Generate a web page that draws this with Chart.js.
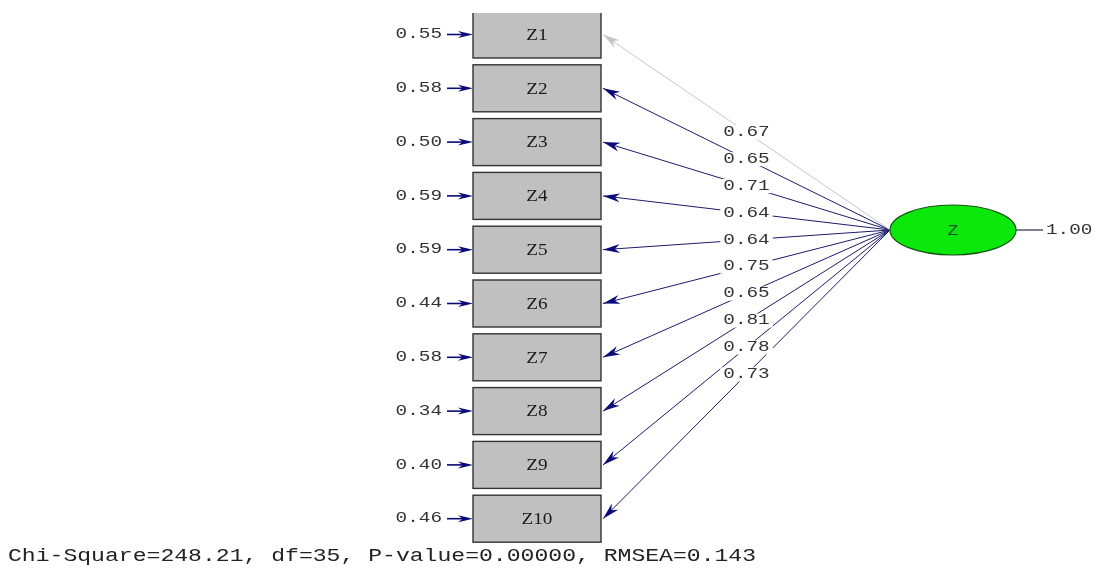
<!DOCTYPE html>
<html>
<head>
<meta charset="utf-8">
<script src="https://cdn.jsdelivr.net/npm/chart.js@4"></script>
<style>
  html, body { margin: 0; padding: 0; background: #fff; }
  #wrap { position: relative; width: 1103px; height: 572px; }
</style>
</head>
<body>
<div id="wrap"><canvas id="diagram"></canvas></div>
<script>
// data
const indicators = ['Z1', 'Z2', 'Z3', 'Z4', 'Z5', 'Z6', 'Z7', 'Z8', 'Z9', 'Z10'];
const errorVariances = [0.55, 0.58, 0.50, 0.59, 0.59, 0.44, 0.58, 0.34, 0.40, 0.46];
const loadings = [0.67, 0.65, 0.71, 0.64, 0.64, 0.75, 0.65, 0.81, 0.78, 0.73];
const latentName = 'Z';
const latentVariance = [1.00];
const fitText = 'Chi-Square=248.21, df=35, P-value=0.00000, RMSEA=0.143';

// layout (in scale units, the scales are set to the canvas size)
const BOX_LEFT = 473, BOX_RIGHT = 601, BOX_TOP = 11, BOX_H = 47, BOX_STEP = 53.8;
const CLIP_TOP = 13; // the original picture is cut just below the top of Z1
const LAT_X = 953, LAT_Y = 230, LAT_RX = 63, LAT_RY = 25;
const NAVY = '#1b1b6b';
const HEAD = '#0a0a78';
const GREY_PATH = '#c6c6c6';

const boxCenterY = i => BOX_TOP + BOX_H / 2 + i * BOX_STEP;

// stretched text, the original output is wider than the font
function stretchText(ctx, text, x, y, font, sx, align, color) {
  ctx.save();
  ctx.font = font;
  ctx.fillStyle = color;
  ctx.textBaseline = 'middle';
  const w = ctx.measureText(text).width * sx;
  let left = x;
  if (align === 'center') left = x - w / 2;
  if (align === 'right') left = x - w;
  ctx.translate(left, y);
  ctx.scale(sx, 1);
  ctx.textAlign = 'left';
  ctx.fillText(text, 0, 0);
  ctx.restore();
  return w;
}

function arrowHead(ctx, tx, ty, fx, fy, len, half, color) {
  const a = Math.atan2(ty - fy, tx - fx);
  const c = Math.cos(a), s = Math.sin(a);
  ctx.save();
  ctx.fillStyle = color;
  ctx.beginPath();
  ctx.moveTo(tx, ty);
  ctx.lineTo(tx - len * c + half * s, ty - len * s - half * c);
  ctx.lineTo(tx - len * 0.7 * c, ty - len * 0.7 * s);
  ctx.lineTo(tx - len * c - half * s, ty - len * s + half * c);
  ctx.closePath();
  ctx.fill();
  ctx.restore();
}

const pathDatasets = loadings.map((v, i) => ({
  label: indicators[i],
  data: [{ x: LAT_X - LAT_RX, y: LAT_Y }, { x: BOX_RIGHT + 2, y: boxCenterY(i) }],
  showLine: true,
  borderColor: i === 0 ? GREY_PATH : NAVY,
  borderWidth: 1,
  pointRadius: 0
}));

const diagramPlugin = {
  id: 'pathDiagram',
  afterDatasetsDraw(chart) {
    const { ctx, scales: { x, y } } = chart;
    const px = v => x.getPixelForValue(v);
    const py = v => y.getPixelForValue(v);
    const labelFont = '14px "Liberation Mono", monospace';
    const LSX = 1.38;

    // indicator boxes, error arrows
    indicators.forEach((name, i) => {
      const top = py(BOX_TOP + i * BOX_STEP);
      const bot = py(BOX_TOP + i * BOX_STEP + BOX_H);
      const l = px(BOX_LEFT), r = px(BOX_RIGHT);
      ctx.save();
      ctx.beginPath();
      ctx.rect(0, py(CLIP_TOP), chart.width, chart.height);
      ctx.clip();
      ctx.fillStyle = '#c0c0c0';
      ctx.fillRect(l, top, r - l, bot - top);
      ctx.strokeStyle = '#333';
      ctx.lineWidth = 1.4;
      ctx.strokeRect(l, top, r - l, bot - top);
      ctx.restore();
      const cy = py(boxCenterY(i));
      stretchText(ctx, name, (l + r) / 2, cy + 1, '16px "Liberation Serif", serif', 1.2, 'center', '#1a1a1a');

      // error arrow
      ctx.strokeStyle = HEAD;
      ctx.lineWidth = 1.6;
      ctx.beginPath();
      ctx.moveTo(px(447), cy);
      ctx.lineTo(l - 6, cy);
      ctx.stroke();
      arrowHead(ctx, l, cy, px(447), cy, 15, 3.5, HEAD);
      stretchText(ctx, errorVariances[i].toFixed(2), px(442), cy, labelFont, LSX, 'right', '#333');
    });

    // loading arrowheads and labels
    loadings.forEach((v, i) => {
      const fx = px(LAT_X - LAT_RX), fy = py(LAT_Y);
      const tx = px(BOX_RIGHT + 2), ty = py(boxCenterY(i));
      arrowHead(ctx, tx, ty, fx, fy, 17, 4.5, i === 0 ? GREY_PATH : HEAD);
      const mx = (fx + tx) / 2, my = (fy + ty) / 2;
      ctx.save();
      ctx.font = labelFont;
      const w = ctx.measureText(v.toFixed(2)).width * LSX;
      ctx.fillStyle = '#fff';
      ctx.fillRect(mx - w / 2 - 3, my - 7, w + 6, 14);
      ctx.restore();
      stretchText(ctx, v.toFixed(2), mx, my, labelFont, LSX, 'center', '#333');
    });

    // latent variable
    const cx = px(LAT_X), cy = py(LAT_Y);
    ctx.save();
    ctx.beginPath();
    ctx.ellipse(cx, cy, px(LAT_X + LAT_RX) - cx, py(LAT_Y + LAT_RY) - cy, 0, 0, Math.PI * 2);
    ctx.fillStyle = '#0ce80c';
    ctx.fill();
    ctx.strokeStyle = '#145214';
    ctx.lineWidth = 1.2;
    ctx.stroke();
    ctx.restore();
    stretchText(ctx, latentName, cx, cy + 1, labelFont, 1.3, 'center', '#2a4a2a');

    ctx.strokeStyle = '#3a3a5a';
    ctx.lineWidth = 1.3;
    ctx.beginPath();
    ctx.moveTo(px(LAT_X + LAT_RX), cy);
    ctx.lineTo(px(1043), cy);
    ctx.stroke();
    stretchText(ctx, latentVariance[0].toFixed(2), px(1046), cy, labelFont, LSX, 'left', '#333');

    // fit statistics
    stretchText(ctx, fitText, px(8), py(556), '19px "Liberation Mono", monospace', 1.215, 'left', '#222');
  }
};

new Chart(document.getElementById('diagram'), {
  type: 'scatter',
  data: { datasets: pathDatasets },
  options: {
    responsive: true,
    maintainAspectRatio: false,
    animation: false,
    events: [],
    layout: { padding: 0 },
    scales: {
      x: { type: 'linear', min: 0, max: 1103, display: false },
      y: { type: 'linear', min: 0, max: 572, reverse: true, display: false }
    },
    plugins: {
      legend: { display: false },
      tooltip: { enabled: false }
    }
  },
  plugins: [diagramPlugin]
});
</script>
</body>
</html>
